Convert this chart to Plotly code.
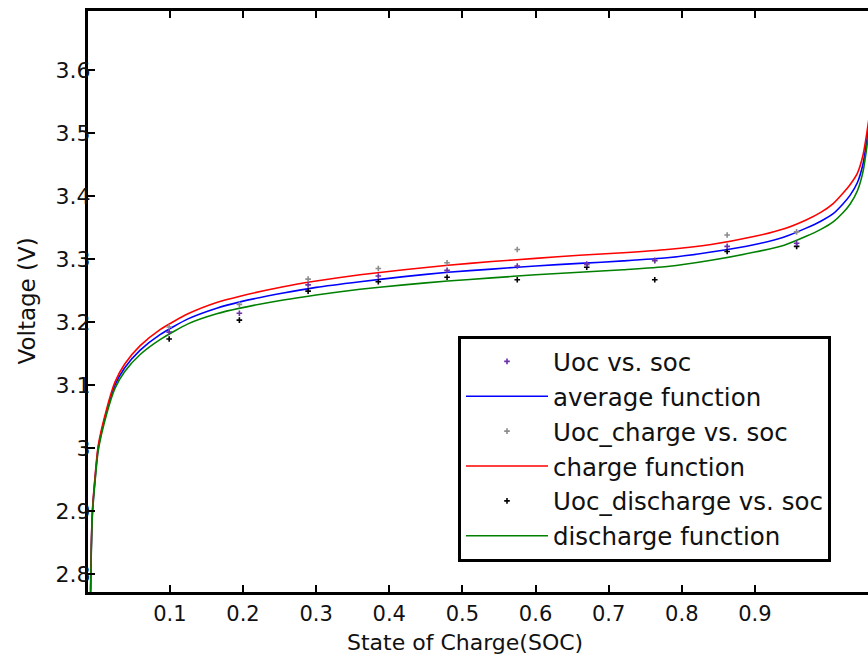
import plotly.graph_objects as go

# ---- data ----
soc_fit = [-0.0085, -0.0075, -0.006, -0.0025, 0.002, 0.0135, 0.025, 0.038, 0.059, 0.0865,
           0.1247, 0.164, 0.196, 0.255, 0.30, 0.36, 0.42, 0.48, 0.54, 0.60, 0.66, 0.72,
           0.78, 0.84, 0.90, 0.94, 0.97, 0.99, 1.007, 1.02, 1.03, 1.04, 1.048, 1.053, 1.058]
avg_fn = [2.77, 2.84, 2.897, 2.949, 3.0, 3.058, 3.100, 3.127, 3.155, 3.180,
          3.205, 3.222, 3.232, 3.246, 3.255, 3.264, 3.272, 3.279, 3.284, 3.289, 3.293, 3.297,
          3.302, 3.311, 3.323, 3.335, 3.349, 3.360, 3.372, 3.387, 3.401, 3.421, 3.452, 3.489, 3.53]
chg_fn = [2.775, 2.845, 2.90, 2.953, 3.004, 3.062, 3.105, 3.133, 3.162, 3.188,
          3.213, 3.231, 3.241, 3.256, 3.265, 3.275, 3.283, 3.290, 3.296, 3.301, 3.306, 3.310,
          3.315, 3.323, 3.336, 3.348, 3.362, 3.374, 3.388, 3.404, 3.418, 3.436, 3.466, 3.50, 3.54]
dis_fn = [2.765, 2.835, 2.893, 2.945, 2.996, 3.054, 3.095, 3.121, 3.148, 3.172,
          3.197, 3.213, 3.222, 3.235, 3.243, 3.252, 3.259, 3.265, 3.270, 3.275, 3.279, 3.283,
          3.288, 3.298, 3.311, 3.322, 3.336, 3.347, 3.359, 3.373, 3.387, 3.408, 3.440, 3.478, 3.52]

soc_pts = [0.099, 0.195, 0.289, 0.385, 0.479, 0.575, 0.670, 0.763, 0.862, 0.957]
uoc_avg = [3.184, 3.214, 3.259, 3.273, 3.282, 3.289, 3.292, 3.298, 3.320, 3.325]
uoc_chg = [3.192, 3.228, 3.268, 3.285, 3.294, 3.315, 3.291, 3.297, 3.338, 3.343]
uoc_dis = [3.173, 3.203, 3.249, 3.264, 3.271, 3.267, 3.287, 3.267, 3.312, 3.320]

x_ticks = [0.1, 0.2, 0.3, 0.4, 0.5, 0.6, 0.7, 0.8, 0.9]
y_ticks = [2.8, 2.9, 3.0, 3.1, 3.2, 3.3, 3.4, 3.5, 3.6]
y_tick_text = ["2.8", "2.9", "3", "3.1", "3.2", "3.3", "3.4", "3.5", "3.6"]

FONT = "DejaVu Sans"
TXT = "#111111"
fig = go.Figure()

def curve(y, color, name, rank):
    fig.add_trace(go.Scatter(x=soc_fit, y=y, mode="lines", name=name, legendrank=rank,
                             line=dict(color=color, width=1.6, shape="spline", smoothing=0.6)))

def points(y, color, name, rank):
    fig.add_trace(go.Scatter(x=soc_pts, y=y, mode="markers", name=name, legendrank=rank,
                             marker=dict(symbol="cross-thin", size=4, color=color,
                                         line=dict(color=color, width=1.6))))

curve(avg_fn, "#0000ff", "average function", 2)
curve(chg_fn, "#ff0000", "charge function", 4)
curve(dis_fn, "#008000", "discharge function", 6)
points(uoc_chg, "#8c8c8c", "Uoc_charge vs. soc", 3)
points(uoc_dis, "#000000", "Uoc_discharge vs. soc", 5)
points(uoc_avg, "#6b2fa8", "Uoc vs. soc", 1)

W, H = 868, 659
PL, PR, PT, PB = 88, 868, 11, 592          # plot box in page pixels
L, R, T, B = PL, W - PR, PT, H - PB
pw, ph = PR - PL, PB - PT

def px_x(p):
    return (p - PL) / pw

def px_y(p):
    return (PB - p) / ph

fig.update_layout(
    width=W, height=H,
    margin=dict(l=L, r=R, t=T, b=B, pad=0),
    paper_bgcolor="white", plot_bgcolor="white",
    font=dict(family=FONT, size=22, color=TXT),
    showlegend=True,
    legend=dict(x=px_x(458), y=px_y(336), xanchor="left", yanchor="top",
                bgcolor="white", bordercolor="black", borderwidth=3,
                font=dict(family=FONT, size=24.5, color=TXT),
                traceorder="normal", itemwidth=82),
    xaxis=dict(range=[-0.012, 1.0546], tickvals=x_ticks, ticktext=[str(v) for v in x_ticks],
               showgrid=False, zeroline=False, showline=True, linecolor="black", linewidth=3,
               mirror="ticks", ticks="inside", ticklen=7, tickwidth=2, tickcolor="black",
               ticklabelstandoff=1, tickfont=dict(family=FONT, size=21, color=TXT)),
    yaxis=dict(range=[2.7714, 3.6937], tickvals=y_ticks, ticktext=y_tick_text,
               showgrid=False, zeroline=False, showline=True, linecolor="black", linewidth=3,
               mirror=False, ticks="inside", ticklen=7, tickwidth=2, tickcolor="black",
               ticklabelstandoff=-10, tickfont=dict(family=FONT, size=22, color=TXT)),
    yaxis2=dict(range=[2.7714, 3.6937], overlaying="y", side="right", tickvals=y_ticks,
                showticklabels=False, showgrid=False, zeroline=False, showline=False,
                ticks="inside", ticklen=7, tickwidth=2, tickcolor="black"),
    annotations=[
        dict(text="State of Charge(SOC)", xref="paper", yref="paper",
             x=px_x(465), y=px_y(642), xanchor="center", yanchor="middle",
             showarrow=False, font=dict(family=FONT, size=22, color=TXT)),
        dict(text="Voltage (V)", xref="paper", yref="paper",
             x=px_x(26), y=0.5, xanchor="center", yanchor="middle", textangle=-90,
             showarrow=False, font=dict(family=FONT, size=23, color=TXT)),
    ],
)

fig.write_html("out.html", config={"displayModeBar": False},
               post_script="document.body.style.margin='0';document.body.style.overflow='hidden';")
